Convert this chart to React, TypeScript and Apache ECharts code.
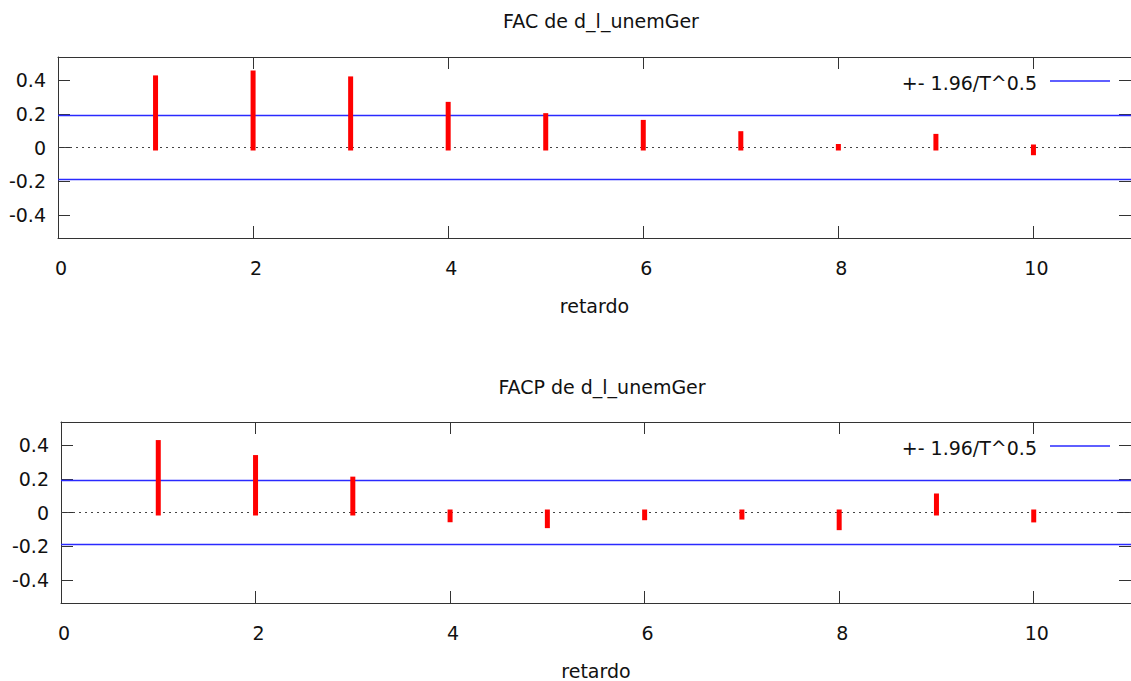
import React, { useEffect, useRef } from "react";
import * as echarts from "echarts";

const lags = [1, 2, 3, 4, 5, 6, 7, 8, 9, 10];
const facValues = [0.41, 0.439, 0.404, 0.253, 0.186, 0.146, 0.079, 0.003, 0.063, -0.028];
const facpValues = [0.412, 0.323, 0.195, -0.04, -0.075, -0.028, -0.024, -0.087, 0.095, -0.041];
const band = 0.19;
const xTicks = [0, 2, 4, 6, 8, 10];
const yTicks = [-0.4, -0.2, 0, 0.2, 0.4];
const titles = ["FAC de d_l_unemGer", "FACP de d_l_unemGer"];
const xName = "retardo";
const legendLabel = "+- 1.96/T^0.5";
const xMin = 0;
const xMax = 11;
const yLim = 0.537;

const FONT = "DejaVu Sans";

export default function App() {
  const ref = useRef<HTMLDivElement>(null);
  useEffect(() => {
    if (!ref.current) return;
    const chart = echarts.init(ref.current, undefined, { renderer: "svg" });
    const grids = [
      { left: 58, top: 57, width: 1076, height: 181 },
      { left: 61, top: 422, width: 1073, height: 181 },
    ];
    const axisLineStyle = { color: "#333", width: 1 };
    const xAxes: any[] = [];
    const yAxes: any[] = [];
    grids.forEach((_, gi) => {
      xAxes.push({
        type: "value",
        gridIndex: gi,
        min: xMin,
        max: xMax,
        position: "bottom",
        name: xName,
        nameLocation: "middle",
        nameGap: 58,
        nameTextStyle: { fontFamily: FONT, fontSize: 19, color: "#111" },
        axisLine: { show: true, onZero: false, lineStyle: axisLineStyle },
        axisTick: { show: true, inside: true, length: 12, customValues: xTicks, lineStyle: axisLineStyle },
        axisLabel: {
          customValues: xTicks,
          margin: 20,
          padding: [0, 0, 0, 6],
          fontFamily: FONT,
          fontSize: 19,
          color: "#111",
        },
        splitLine: { show: false },
      });
      xAxes.push({
        type: "value",
        gridIndex: gi,
        min: xMin,
        max: xMax,
        position: "top",
        axisLine: { show: true, onZero: false, lineStyle: axisLineStyle },
        axisTick: { show: true, inside: true, length: 12, customValues: xTicks, lineStyle: axisLineStyle },
        axisLabel: { show: false },
        splitLine: { show: false },
      });
      yAxes.push({
        type: "value",
        gridIndex: gi,
        min: -yLim,
        max: yLim,
        position: "left",
        axisLine: { show: true, onZero: false, lineStyle: axisLineStyle },
        axisTick: { show: true, inside: true, length: 12, customValues: yTicks, lineStyle: axisLineStyle },
        axisLabel: {
          customValues: yTicks,
          margin: 12,
          fontFamily: FONT,
          fontSize: 19,
          color: "#111",
        },
        splitLine: { show: false },
      });
      yAxes.push({
        type: "value",
        gridIndex: gi,
        min: -yLim,
        max: yLim,
        position: "right",
        axisLine: { show: true, onZero: false, lineStyle: axisLineStyle },
        axisTick: { show: true, inside: true, length: 12, customValues: yTicks, lineStyle: axisLineStyle },
        axisLabel: { show: false },
        splitLine: { show: false },
      });
    });

    const series: any[] = [];
    [facValues, facpValues].forEach((vals, gi) => {
      const xi = gi * 2;
      const yi = gi * 2;
      series.push({
        type: "line",
        xAxisIndex: xi,
        yAxisIndex: yi,
        data: [[xMin, 0], [xMax, 0]],
        symbol: "none",
        silent: true,
        lineStyle: { color: "#444", width: 1, type: [2, 4] },
        z: 1,
      });
      series.push({
        type: "line",
        name: legendLabel,
        xAxisIndex: xi,
        yAxisIndex: yi,
        data: [[xMin, band], [xMax, band]],
        symbol: "none",
        lineStyle: { color: "#2a2aff", width: 1.4 },
        z: 2,
      });
      series.push({
        type: "line",
        xAxisIndex: xi,
        yAxisIndex: yi,
        data: [[xMin, -band], [xMax, -band]],
        symbol: "none",
        lineStyle: { color: "#2a2aff", width: 1.4 },
        z: 2,
      });
      series.push({
        type: "custom",
        xAxisIndex: xi,
        yAxisIndex: yi,
        data: lags.map((l, i) => [l, vals[i]]),
        encode: { x: 0, y: 1 },
        z: 3,
        renderItem: (params: any, api: any) => {
          const x = api.value(0);
          const v = api.value(1);
          const p0 = api.coord([x, 0]);
          const p1 = api.coord([x, v]);
          const top = Math.min(p0[1], p1[1]) - 3;
          const bot = Math.max(p0[1], p1[1]) + 3;
          return {
            type: "rect",
            shape: { x: p0[0] - 2.5, y: top, width: 5, height: bot - top },
            style: { fill: "#ff0000" },
          };
        },
      });
    });

    const legendTexts = [
      { ty: 83, ly: 81 },
      { ty: 448, ly: 446 },
    ];
    const graphic: any[] = [];
    legendTexts.forEach((lg) => {
      graphic.push({
        type: "text",
        x: 1037,
        y: lg.ty,
        style: {
          text: legendLabel,
          fontFamily: FONT,
          fontSize: 19,
          fill: "#111",
          align: "right",
          verticalAlign: "middle",
        },
      });
      graphic.push({
        type: "line",
        shape: { x1: 1050, y1: lg.ly, x2: 1110, y2: lg.ly },
        style: { stroke: "#2a2aff", lineWidth: 1.4 },
      });
    });

    chart.setOption({
      animation: false,
      backgroundColor: "#ffffff",
      title: [
        {
          text: titles[0],
          left: 596,
          top: 6,
          textAlign: "center",
          textStyle: { fontFamily: FONT, fontSize: 19, fontWeight: "normal", color: "#111" },
        },
        {
          text: titles[1],
          left: 597,
          top: 372,
          textAlign: "center",
          textStyle: { fontFamily: FONT, fontSize: 19, fontWeight: "normal", color: "#111" },
        },
      ],
      grid: grids,
      xAxis: xAxes,
      yAxis: yAxes,
      series,
      graphic,
    });
    return () => chart.dispose();
  }, []);
  return (
    <div
      ref={ref}
      style={{ position: "absolute", left: 0, top: 0, width: 1131, height: 681, background: "#fff" }}
    />
  );
}
